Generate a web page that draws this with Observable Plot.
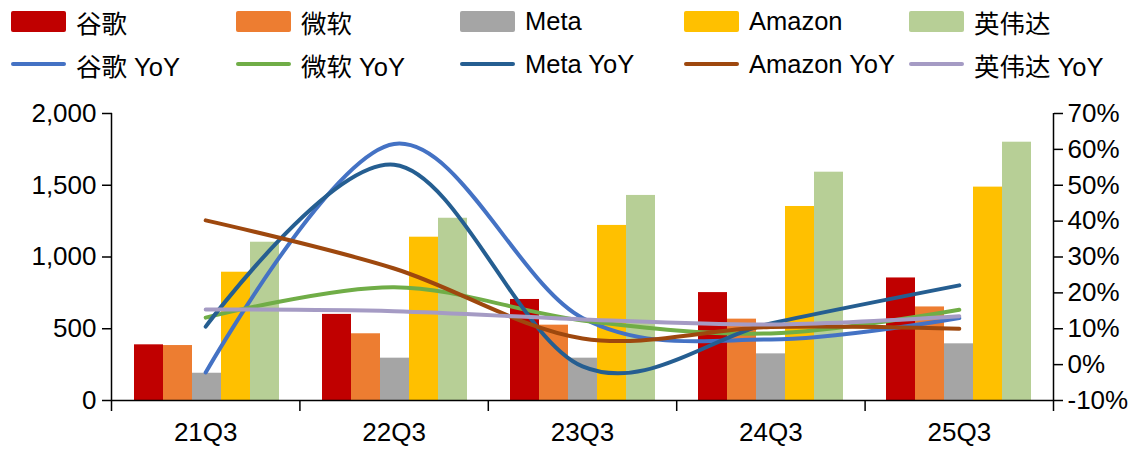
<!DOCTYPE html>
<html>
<head>
<meta charset="utf-8">
<script src="https://cdn.jsdelivr.net/npm/d3@7"></script>
<script src="https://cdn.jsdelivr.net/npm/@observablehq/plot@0.6"></script>
<style>
  body { margin: 0; background: #fff; font-family: "Liberation Sans", Arial, "Noto Sans CJK SC", sans-serif; }
  #wrap { position: relative; width: 1137px; height: 449px; overflow: hidden; }
  #legend { position: absolute; left: 0; top: 0; width: 1137px; height: 90px; }
  .item { position: absolute; height: 30px; display: flex; align-items: center; font-size: 25.5px; color: #000; white-space: nowrap; }
  .sw { width: 55px; height: 21px; border-radius: 2px; margin-right: 10px; flex: none; }
  .ln { width: 55px; height: 4px; border-radius: 2px; margin-right: 10px; flex: none; }
  #chart { position: absolute; left: 0; top: 90px; width: 1137px; height: 359px; }
  #chart svg { position: absolute; left: 0; top: 0; }
</style>
</head>
<body>
<div id="wrap">
  <div id="legend"></div>
  <div id="chart"></div>
</div>
<script>
// ---- data ----
const quarters = ["21Q3", "22Q3", "23Q3", "24Q3", "25Q3"];
const companies = ["谷歌", "微软", "Meta", "Amazon", "英伟达"];
const googleVals = [388, 600, 704, 752, 854];
const microsoftVals = [383, 465, 525, 567, 652];
const metaVals = [190, 295, 295, 325, 395];
const amazonVals = [894, 1138, 1220, 1352, 1487];
const nvidiaVals = [1103, 1270, 1429, 1591, 1800];
const yoyNames = ["谷歌 YoY", "微软 YoY", "Meta YoY", "Amazon YoY", "英伟达 YoY"];
const googleYoY = [-2.2, 61.5, 13, 7, 13];
const microsoftYoY = [13.1, 21.6, 12.3, 8.7, 15.3];
const metaYoY = [10.6, 55.7, -0.5, 11.5, 22.1];
const amazonYoY = [40.2, 26.8, 7.3, 10.5, 10];
const nvidiaYoY = [15.4, 14.9, 12.6, 11.2, 13.5];
const leftTicks = [0, 500, 1000, 1500, 2000];
const rightTicks = [-10, 0, 10, 20, 30, 40, 50, 60, 70];

// ---- styles ----
const barColors = ["#C00000", "#ED7D31", "#A5A5A5", "#FFC000", "#B7CF96"];
const lineColors = ["#4472C4", "#70AD47", "#255E91", "#9E480E", "#A59BC4"];

const barSeries = [googleVals, microsoftVals, metaVals, amazonVals, nvidiaVals];
const yoySeries = [googleYoY, microsoftYoY, metaYoY, amazonYoY, nvidiaYoY];

const bars = [];
quarters.forEach((q, qi) => companies.forEach((c, ci) => bars.push({quarter: q, company: c, value: barSeries[ci][qi]})));

// ---- legend ----
const legend = document.getElementById("legend");
const colX = [11, 236, 460, 684, 909];
companies.forEach((c, i) => {
  const d = document.createElement("div");
  d.className = "item"; d.style.left = colX[i] + "px"; d.style.top = "6px";
  d.innerHTML = `<span class="sw" style="background:${barColors[i]}"></span><span>${c}</span>`;
  legend.appendChild(d);
});
yoyNames.forEach((c, i) => {
  const d = document.createElement("div");
  d.className = "item"; d.style.left = colX[i] + "px"; d.style.top = "49px";
  d.innerHTML = `<span class="ln" style="background:${lineColors[i]}"></span><span>${c}</span>`;
  legend.appendChild(d);
});

// ---- charts ----
const W = 1137, H = 359, MT = 23, MB = 49, ML = 111, MR = 84;
const font = "'Liberation Sans', Arial, 'Noto Sans CJK SC', sans-serif";
const baseStyle = {fontFamily: font, fontSize: "26px", color: "#000", background: "transparent", overflow: "visible"};

const plotA = Plot.plot({
  width: W, height: H, marginTop: MT, marginBottom: MB, marginLeft: ML, marginRight: MR,
  style: baseStyle,
  fx: {domain: quarters, padding: 0, axis: null},
  x: {domain: companies, paddingInner: 0, paddingOuter: 0.72, axis: null},
  y: {domain: [0, 2000], axis: null},
  color: {domain: companies, range: barColors},
  marks: [
    Plot.barY(bars, {fx: "quarter", x: "company", y: "value", fill: "company"}),
    Plot.axisY({anchor: "left", ticks: leftTicks, tickFormat: d3.format(","), tickSize: 10, tickPadding: 6,
      fontSize: 26, stroke: "#000", strokeWidth: 1.5, fill: "#000", label: null})
  ]
});

const lineData = yoySeries.map((vals, s) => vals.map((v, i) => ({series: yoyNames[s], pos: i + 0.5, v})));
const boundaries = d3.range(quarters.length + 1);
const centers = quarters.map((q, i) => i + 0.5);

const plotB = Plot.plot({
  width: W, height: H, marginTop: MT, marginBottom: MB, marginLeft: ML, marginRight: MR,
  style: baseStyle,
  x: {domain: [0, quarters.length], axis: null},
  y: {domain: [-10, 70], axis: null},
  marks: [
    Plot.ruleX([0, quarters.length], {stroke: "#000", strokeWidth: 1.5}),
    Plot.ruleY([-10], {stroke: "#000", strokeWidth: 1.5}),
    Plot.axisX({anchor: "bottom", ticks: boundaries, tickSize: 11, tickFormat: () => "", stroke: "#000", strokeWidth: 1.5, label: null}),
    Plot.axisX({anchor: "bottom", ticks: centers, tickSize: 0, tickPadding: 22, tickFormat: (d) => quarters[Math.floor(d)],
      fontSize: 26, fill: "#000", label: null}),
    Plot.axisY({anchor: "right", ticks: rightTicks, tickSize: 9, tickPadding: 5, tickFormat: (d) => d + "%",
      fontSize: 26, stroke: "#000", strokeWidth: 1.5, fill: "#000", label: null}),
    ...lineData.map((pts, s) => Plot.lineY(pts, {x: "pos", y: "v", stroke: lineColors[s], strokeWidth: 4,
      curve: "cardinal", strokeLinecap: "round", strokeLinejoin: "round"}))
  ]
});

const chart = document.getElementById("chart");
chart.appendChild(plotA);
chart.appendChild(plotB);
</script>
</body>
</html>
